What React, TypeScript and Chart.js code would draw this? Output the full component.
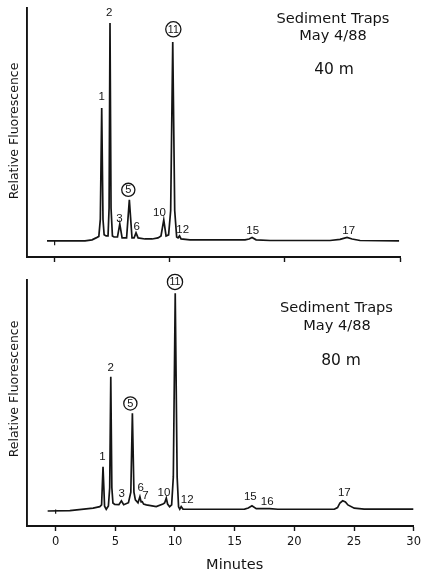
import React, { useEffect, useRef } from 'react';
import { Chart, registerables } from 'chart.js';

Chart.register(...registerables);

// ---- data (minutes, relative fluorescence) ----
const topTime = [-0.66, 0, 2.64, 3.25, 3.6, 3.84, 3.97, 4.09, 4.2, 4.3, 4.47, 4.64, 4.73, 4.81, 4.9, 5.02, 5.16, 5.46, 5.66, 5.86, 6.25, 6.49, 6.72, 6.9, 7.07, 7.25, 7.85, 8.46, 8.98, 9.24, 9.48, 9.68, 9.9, 10.08, 10.26, 10.43, 10.6, 10.72, 10.85, 10.98, 11.76, 16.54, 16.89, 17.15, 17.5, 18.71, 23.92, 24.79, 25.4, 25.84, 26.53, 29.92];
const topSignal = [0, 0, 0, 0.5, 1.4, 2.1, 10, 61.2, 10, 2.8, 2.3, 2.3, 15, 100.3, 15, 2.3, 1.8, 1.8, 7.8, 1.4, 1.4, 18.9, 1.4, 1.4, 3.7, 1.4, 0.9, 0.9, 1.4, 2.3, 9.7, 2.3, 2.8, 14, 91.5, 14, 1.8, 1.4, 2.3, 0.9, 0.5, 0.5, 0.9, 1.6, 0.5, 0.2, 0.2, 0.7, 1.6, 0.9, 0.2, 0];

const bottomTime = [-0.67, 1.19, 3.14, 3.7, 3.85, 3.97, 4.1, 4.24, 4.42, 4.53, 4.62, 4.71, 4.8, 4.95, 5.3, 5.51, 5.7, 6.1, 6.3, 6.43, 6.56, 6.68, 6.9, 7.06, 7.16, 7.26, 7.37, 7.6, 8.43, 8.99, 9.13, 9.27, 9.38, 9.55, 9.72, 9.86, 10.02, 10.18, 10.3, 10.4, 10.52, 10.67, 13.05, 15.83, 16.14, 16.45, 16.81, 17.92, 18.62, 23.35, 23.62, 23.82, 24.05, 24.28, 24.49, 25.02, 25.85, 29.98];
const bottomSignal = [-0.7, -0.5, 0.6, 1.3, 2.1, 19.7, 1.5, 0.1, 1.6, 10, 61.1, 10, 3.0, 2.3, 2.2, 4.0, 2.2, 3.1, 8, 44.3, 8, 4.4, 3.1, 5.9, 3.5, 3.6, 2.5, 2.1, 1.3, 2.5, 3.0, 5.2, 2.5, 1.3, 2.1, 15, 99.5, 15, 1.2, 0.1, 1.3, 0.2, 0.1, 0.2, 0.7, 1.7, 0.4, 0.4, 0.1, 0.1, 0.9, 3.0, 4.0, 3.5, 2.1, 0.6, 0.2, 0.2];

const injectTime = [0, 0];
const injectSignal = [0, -2];

const topPeakLabels = ['1', '2', '3', '5', '6', '10', '11', '12', '15', '17'];
const topPeakTime = [4.09, 4.75, 5.62, 6.4, 7.13, 9.1, 10.31, 11.13, 17.21, 25.55];
const topPeakSignal = [66.4, 105.0, 10.4, 23.5, 6.9, 13.2, 97.4, 5.4, 5.1, 5.1];

const bottomPeakLabels = ['1', '2', '3', '5', '6', '7', '10', '11', '12', '15', '16', '17'];
const bottomPeakTime = [3.93, 4.62, 5.54, 6.26, 7.12, 7.52, 9.07, 10.0, 11.02, 16.31, 17.73, 24.19];
const bottomPeakSignal = [24.3, 65.4, 7.4, 48.8, 10.3, 6.5, 8.1, 104.7, 4.7, 5.9, 3.9, 7.9];

const circledPeaks = ['5', '11'];

const topHeader = ['Sediment Traps', 'May 4/88', '40 m'];
const bottomHeader = ['Sediment Traps', 'May 4/88', '80 m'];

const topTicks = [0, 10, 20, 30];
const bottomTicks = [0, 5, 10, 15, 20, 25, 30];

const yTitle = 'Relative Fluorescence';
const xTitle = 'Minutes';

const INK = '#141414';

type PanelDef = {
  time: number[];
  signal: number[];
  labels: string[];
  labelTime: number[];
  labelSignal: number[];
  header: string[];
  ticks: number[];
  showTickLabels: boolean;
  showXTitle: boolean;
  height: number;
  top: number;
  padding: { top: number; right: number; left: number; bottom: number };
  xAxisHeight: number;
  yMin: number;
  yMax: number;
  headerPos: { x: number; y: number }[];
  yTitleY: number;
};

function makeAnnot(p: PanelDef) {
  return {
    id: 'annot',
    afterDraw(chart: any) {
      const ctx = chart.ctx as CanvasRenderingContext2D;
      const xs = chart.scales.x;
      const ys = chart.scales.y;
      ctx.save();
      ctx.fillStyle = INK;
      ctx.strokeStyle = INK;
      ctx.textAlign = 'center';
      ctx.textBaseline = 'middle';
      p.labels.forEach((t, i) => {
        const px = xs.getPixelForValue(p.labelTime[i]);
        const py = ys.getPixelForValue(p.labelSignal[i]);
        if (circledPeaks.includes(t)) {
          ctx.beginPath();
          ctx.lineWidth = 1.3;
          ctx.arc(px, py, t.length > 1 ? 7.6 : 6.6, 0, Math.PI * 2);
          ctx.stroke();
          ctx.font = (t.length > 1 ? '10.5px' : '11px') + ' "Liberation Sans", Arial, sans-serif';
        } else {
          ctx.font = '11.5px "Liberation Sans", Arial, sans-serif';
        }
        ctx.fillText(t, px, py + 0.5);
      });
      // header
      ctx.textBaseline = 'alphabetic';
      p.header.forEach((t, i) => {
        ctx.font = (i === 2 ? '15.5px' : '14.6px') + ' "DejaVu Sans", sans-serif';
        ctx.fillText(t, p.headerPos[i].x, p.headerPos[i].y);
      });
      // y title
      ctx.save();
      ctx.translate(15, p.yTitleY);
      ctx.rotate(-Math.PI / 2);
      ctx.textBaseline = 'middle';
      ctx.font = '12.5px "DejaVu Sans", sans-serif';
      ctx.fillText(yTitle, 0, 0);
      ctx.restore();
      // x title
      if (p.showXTitle) {
        ctx.textBaseline = 'alphabetic';
        ctx.font = '14.5px "DejaVu Sans", sans-serif';
        ctx.fillText(xTitle, xs.getPixelForValue(15), chart.height - 1.5);
      }
      ctx.restore();
    },
  };
}

function Panel({ p }: { p: PanelDef }) {
  const ref = useRef<HTMLCanvasElement | null>(null);
  useEffect(() => {
    if (!ref.current) return;
    const chart = new Chart(ref.current, {
      type: 'line',
      data: {
        datasets: [
          {
            data: p.time.map((t, i) => ({ x: t, y: p.signal[i] })),
            borderColor: INK,
            borderWidth: 1.7,
            pointRadius: 0,
            tension: 0,
            fill: false,
          },
          {
            data: injectTime.map((t, i) => ({ x: t, y: injectSignal[i] })),
            borderColor: INK,
            borderWidth: 1.2,
            pointRadius: 0,
            fill: false,
          },
        ],
      },
      options: {
        responsive: false,
        animation: false,
        devicePixelRatio: 1,
        events: [],
        layout: { padding: p.padding },
        plugins: { legend: { display: false }, tooltip: { enabled: false }, title: { display: false } },
        scales: {
          x: {
            type: 'linear',
            min: -2.4,
            max: 30,
            afterBuildTicks: (s: any) => {
              s.ticks = p.ticks.map((v) => ({ value: v }));
            },
            afterFit: (s: any) => {
              s.height = p.xAxisHeight;
            },
            ticks: {
              autoSkip: false,
              maxRotation: 0,
              padding: 4,
              color: INK,
              font: { family: '"DejaVu Sans", sans-serif', size: 11.5 },
              callback: (v: any) => (p.showTickLabels ? String(v) : ''),
            },
            grid: {
              display: true,
              drawOnChartArea: false,
              drawTicks: true,
              tickLength: 5,
              tickColor: INK,
              tickWidth: 1.4,
            },
            border: { display: true, color: INK, width: 1.9 },
          },
          y: {
            type: 'linear',
            min: p.yMin,
            max: p.yMax,
            afterFit: (s: any) => {
              s.width = 27;
            },
            ticks: { display: false },
            grid: { display: false },
            border: { display: true, color: INK, width: 1.9 },
          },
        },
      },
      plugins: [makeAnnot(p)],
    } as any);
    return () => chart.destroy();
  }, [p]);
  return (
    <canvas
      ref={ref}
      width={425}
      height={p.height}
      style={{ position: 'absolute', left: 0, top: p.top, width: 425, height: p.height, display: 'block' }}
    />
  );
}

const topPanel: PanelDef = {
  time: topTime,
  signal: topSignal,
  labels: topPeakLabels,
  labelTime: topPeakTime,
  labelSignal: topPeakSignal,
  header: topHeader,
  ticks: topTicks,
  showTickLabels: false,
  showXTitle: false,
  height: 262,
  top: 0,
  padding: { top: 8, right: 25, left: 0, bottom: 0 },
  xAxisHeight: 5,
  yMin: -7.4,
  yMax: 107.2,
  headerPos: [
    { x: 333, y: 23 },
    { x: 333, y: 39.5 },
    { x: 334, y: 74 },
  ],
  yTitleY: 131,
};

const bottomPanel: PanelDef = {
  time: bottomTime,
  signal: bottomSignal,
  labels: bottomPeakLabels,
  labelTime: bottomPeakTime,
  labelSignal: bottomPeakSignal,
  header: bottomHeader,
  ticks: bottomTicks,
  showTickLabels: true,
  showXTitle: true,
  height: 308,
  top: 262,
  padding: { top: 18, right: 10, left: 0, bottom: 0 },
  xAxisHeight: 44,
  yMin: -7.6,
  yMax: 105.6,
  headerPos: [
    { x: 336.5, y: 50.3 },
    { x: 337, y: 68 },
    { x: 341, y: 102.7 },
  ],
  yTitleY: 127,
};

export default function App() {
  return (
    <div style={{ position: 'absolute', left: 0, top: 0, width: 425, height: 570, background: '#fff' }}>
      <Panel p={topPanel} />
      <Panel p={bottomPanel} />
    </div>
  );
}
